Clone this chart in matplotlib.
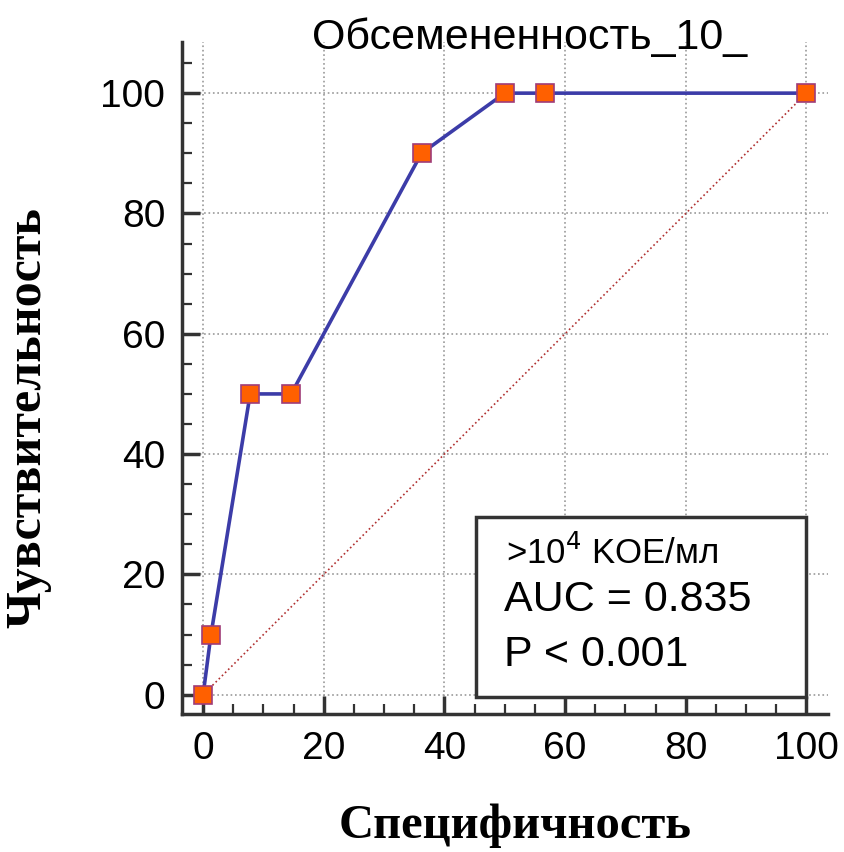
import matplotlib.pyplot as plt
from matplotlib.ticker import MultipleLocator

specificity = [0, 1.3, 7.8, 14.6, 36.2, 50, 56.7, 100]
sensitivity = [0, 10, 50, 50, 90, 100, 100, 100]
ref_line = [0, 100]

fig = plt.figure(figsize=(8.45, 8.52), dpi=100)
ax = fig.add_axes([0.2154, 0.162, 0.7646, 0.7887])

ax.plot(ref_line, ref_line, color='#b03030', linestyle=':', linewidth=1.2, zorder=2)
ax.plot(specificity, sensitivity, color='#3c3ca8', linewidth=2.6, marker='s',
        markersize=13.5, markerfacecolor='#ff6000', markeredgecolor='#a03c78',
        markeredgewidth=1.2, zorder=3, clip_on=False)

ax.set_xlim(-3.5, 103.6)
ax.set_ylim(-3.2, 108.5)
ax.xaxis.set_major_locator(MultipleLocator(20))
ax.yaxis.set_major_locator(MultipleLocator(20))
ax.xaxis.set_minor_locator(MultipleLocator(5))
ax.yaxis.set_minor_locator(MultipleLocator(5))
ax.grid(which='major', color='#999999', linestyle=':', linewidth=1.2)

for side in ['top', 'right']:
    ax.spines[side].set_visible(False)
for side in ['left', 'bottom']:
    ax.spines[side].set_linewidth(2.5)
    ax.spines[side].set_color('#333333')

ax.tick_params(which='major', direction='in', length=13, width=2.5, color='#333333',
               labelsize=28, pad=12)
ax.tick_params(which='minor', direction='in', length=7, width=1.6, color='#333333')
for lab in ax.get_xticklabels() + ax.get_yticklabels():
    lab.set_fontfamily('Liberation Sans')

fig.text(0.61, 0.031, 'Специфичность', fontfamily='Liberation Serif', fontweight='bold',
         fontsize=35, ha='center', va='center')
fig.text(0.034, 0.51, 'Чувствительность', fontfamily='Liberation Serif', fontweight='bold',
         fontsize=36, ha='center', va='center', rotation=90)
fig.text(0.627, 0.955, 'Обсемененность_10_', fontfamily='Liberation Sans', fontsize=31,
         ha='center', va='center')

box = plt.Rectangle((45.2, -0.3), 54.7, 29.9, fill=True, facecolor='white',
                    edgecolor='#333333', linewidth=2.5, zorder=4)
ax.add_patch(box)
ax.text(50.2, 23.6, '>10$^4$ KOE/мл', fontfamily='Liberation Sans', fontsize=25,
        va='center', zorder=5)
ax.text(49.8, 15.8, 'AUC = 0.835', fontfamily='Liberation Sans', fontsize=31,
        va='center', zorder=5)
ax.text(49.8, 6.6, 'P < 0.001', fontfamily='Liberation Sans', fontsize=31,
        va='center', zorder=5)

fig.savefig('out.png', dpi=100)
